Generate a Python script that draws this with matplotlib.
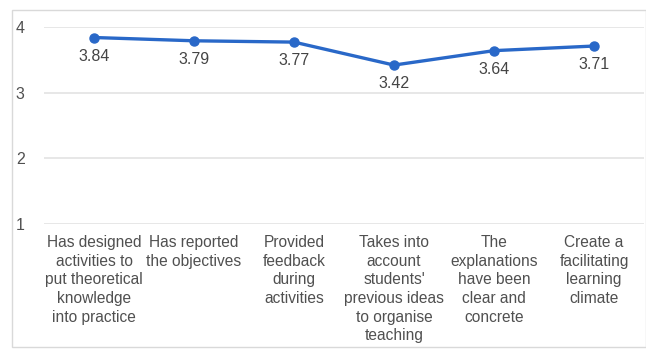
import matplotlib.pyplot as plt
from matplotlib.patches import Rectangle

plt.rcParams['font.family'] = ['Liberation Sans', 'DejaVu Sans']

categories = [
    "Has designed\nactivities to\nput theoretical\nknowledge\ninto practice",
    "Has reported\nthe objectives",
    "Provided\nfeedback\nduring\nactivities",
    "Takes into\naccount\nstudents'\nprevious ideas\nto organise\nteaching",
    "The\nexplanations\nhave been\nclear and\nconcrete",
    "Create a\nfacilitating\nlearning\nclimate",
]
scores = [3.84, 3.79, 3.77, 3.42, 3.64, 3.71]
y_ticks = [1, 2, 3, 4]

fig = plt.figure(figsize=(6.46, 3.56), dpi=100)
ax = fig.add_axes([44 / 646, 1 - 224 / 356, 600 / 646, 197 / 356])

# light frame around the whole chart
fig.patches.append(Rectangle((12 / 646, 1 - 347 / 356), 634 / 646, 337 / 356,
                             transform=fig.transFigure, fill=False,
                             edgecolor="#d9d9d9", linewidth=1))

x = list(range(len(categories)))
ax.plot(x, scores, color="#2968c8", linewidth=2.4, marker="o", markersize=6.5,
        zorder=3)
for xi, v in zip(x, scores):
    ax.annotate(f"{v:.2f}", (xi, v), xytext=(0, -8), textcoords="offset points",
                ha="center", va="top", fontsize=11.5, color="#444444")

ax.set_xlim(-0.5, len(categories) - 0.5)
ax.set_ylim(1, 4)
ax.set_yticks(y_ticks)
ax.set_xticks(x)
ax.set_xticklabels(categories, fontsize=11.2, color="#505050", linespacing=1.3)
ax.tick_params(axis="y", labelsize=11.5, labelcolor="#505050", length=0, pad=14)
ax.tick_params(axis="x", length=0, pad=8)
ax.grid(axis="y", color="#e3e3e3", linewidth=1.2)
ax.set_axisbelow(True)
for s in ax.spines.values():
    s.set_visible(False)

fig.savefig("out.png", dpi=100)
